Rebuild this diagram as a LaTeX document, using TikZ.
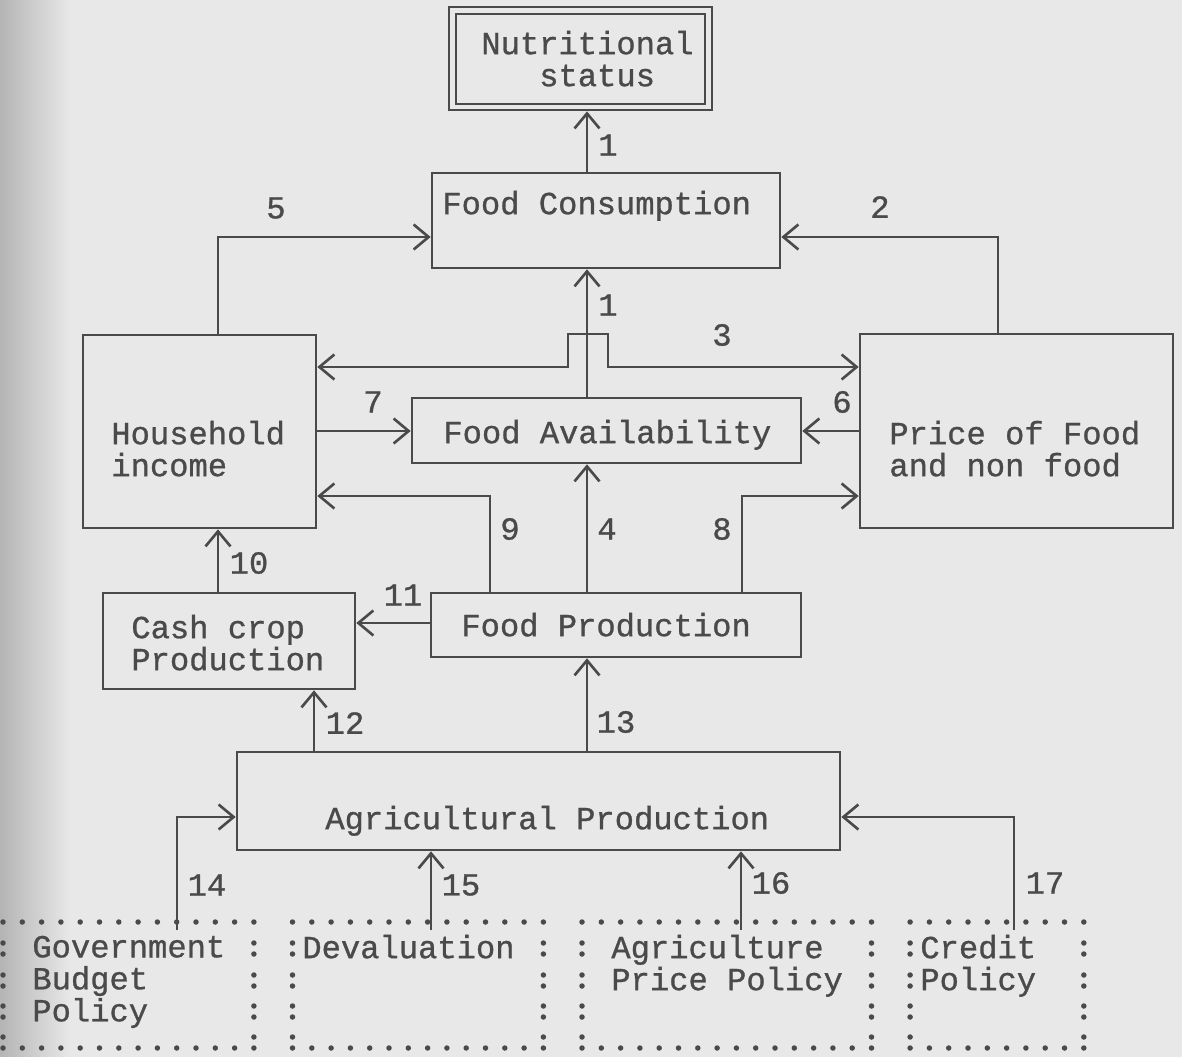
\documentclass[tikz,border=0pt]{standalone}
\usepackage{fontspec}
\newfontfamily\mono[FakeBold=0.9]{Liberation Mono}
\usetikzlibrary{arrows.meta,fit,calc}
\definecolor{ink}{HTML}{4A4A4A}
\definecolor{bg}{HTML}{E8E8E8}
\definecolor{bgdark}{HTML}{B4B4B4}
\newcommand\ts{\rule{0pt}{12.8pt}}
\newcommand\dotbox[2]{%
  \foreach \i in {0,...,#2} {%
    \fill[ink] ({#1+\i*19.3},922) circle[radius=0.055cm];
    \fill[ink] ({#1+\i*19.3},1048) circle[radius=0.055cm];}
  \foreach \yy in {943,954,975,986,1006,1017,1037} {%
    \fill[ink] (#1,\yy) circle[radius=0.055cm];
    \fill[ink] ({#1+#2*19.3},\yy) circle[radius=0.055cm];}
}
\tikzset{
  box/.style={draw=ink, line width=1.5pt, inner sep=0pt},
  dbl/.style={draw=ink, line width=1.2pt, double=bg, double distance=2.6pt, inner sep=0pt, outer sep=2.5pt},
  pbox/.style={draw=none, inner sep=0pt, outer sep=0pt},
  txt/.style={font=\mono\fontsize{18.3pt}{18.2pt}\selectfont, text=ink, align=left, inner sep=0pt, anchor=north west, yshift=12.8pt},
  num/.style={font=\mono\fontsize{18.3pt}{18.2pt}\selectfont, text=ink, inner sep=0pt},
  conn/.style={draw=ink, line width=1.5pt, -{Straight Barb[length=3mm,width=5mm]}},
  conntwo/.style={draw=ink, line width=1.5pt, {Straight Barb[length=3mm,width=5mm]}-{Straight Barb[length=3mm,width=5mm]}},
}
\begin{document}
\begin{tikzpicture}[x=0.02cm,y=-0.02cm]
\useasboundingbox (0,0) rectangle (1182,1057);
\fill[bg] (0,0) rectangle (1182,1057);
\shade[left color=bgdark, right color=bg] (0,0) rectangle (70,1057);

% boxes
\node[dbl, fit={(452.5,10.5) (708.5,107)}] (ns) {};
\node[box, fit={(432,173) (780,268)}] (fc) {};
\node[box, fit={(83,335) (316,528)}] (hh) {};
\node[box, fit={(860,334) (1173,528)}] (pr) {};
\node[box, fit={(412,398) (801,463)}] (fa) {};
\node[box, fit={(431,593) (801,657)}] (fp) {};
\node[box, fit={(103,593) (355,689)}] (cc) {};
\node[box, fit={(237,752) (840,850)}] (ap) {};
\node[pbox, fit={(3,930) (253.9,1048)}] (gov) {};
\node[pbox, fit={(292.5,930) (543.4,1048)}] (dev) {};
\node[pbox, fit={(582,930) (871.5,1048)}] (agp) {};
\node[pbox, fit={(910.1,930) (1083.8,1048)}] (cred) {};

% texts
\node[txt] (nst) at (481,53) {\ts Nutritional\\\hphantom{xxx}status};
\node[txt] (fct) at (442,213) {\ts Food Consumption};
\node[txt] (hht) at (111,443) {\ts Household\\income};
\node[txt] (prt) at (889,443) {\ts Price of Food\\and non food};
\node[txt] (fat) at (443,442) {\ts Food Availability};
\node[txt] (fpt) at (461,635) {\ts Food Production};
\node[txt] (cct) at (131,637) {\ts Cash crop\\Production};
\node[txt] (apt) at (325,828) {\ts Agricultural Production};
\node[txt] (govt) at (32,957) {\ts Government\\Budget\\Policy};
\node[txt] (devt) at (302,957) {\ts Devaluation};
\node[txt] (agpt) at (611,957) {\ts Agriculture\\Price Policy};
\node[txt] (credt) at (920,957) {\ts Credit\\Policy};

% dotted policy boxes
\dotbox{3}{13}
\dotbox{292.5}{13}
\dotbox{582}{15}
\dotbox{910.1}{9}

% guide coordinates
\coordinate (v1) at (587,0);
\coordinate (v5) at (218,0);
\coordinate (v2) at (998,0);
\coordinate (v9) at (490,0);
\coordinate (v8) at (742,0);
\coordinate (v12) at (314,0);
\coordinate (v14) at (177,0);
\coordinate (v15) at (431,0);
\coordinate (v16) at (741,0);
\coordinate (v17) at (1014,0);
\coordinate (h5) at (0,237);
\coordinate (h3) at (0,367);
\coordinate (h7) at (0,431);
\coordinate (h9) at (0,496);
\coordinate (h11) at (0,623);
\coordinate (h14) at (0,817);
\coordinate (b1) at (568,334);
\coordinate (b2) at (608,334);

% connectors
\draw[conn] (v1 |- fc.north) -- (v1 |- ns.south);
\draw[conn] (v5 |- hh.north) -- (v5 |- h5) -- (fc.west |- h5);
\draw[conn] (v2 |- pr.north) -- (v2 |- h5) -- (fc.east |- h5);
\draw[conn] (v1 |- fa.north) -- (v1 |- fc.south);
\draw[conntwo] (hh.east |- h3) -- (b1 |- h3) -- (b1) -- (b2) -- (b2 |- h3) -- (pr.west |- h3);
\draw[conn] (hh.east |- h7) -- (fa.west |- h7);
\draw[conn] (pr.west |- h7) -- (fa.east |- h7);
\draw[conn] (v9 |- fp.north) -- (v9 |- h9) -- (hh.east |- h9);
\draw[conn] (v1 |- fp.north) -- (v1 |- fa.south);
\draw[conn] (v8 |- fp.north) -- (v8 |- h9) -- (pr.west |- h9);
\draw[conn] (fp.west |- h11) -- (cc.east |- h11);
\draw[conn] (v5 |- cc.north) -- (v5 |- hh.south);
\draw[conn] (v12 |- ap.north) -- (v12 |- cc.south);
\draw[conn] (v1 |- ap.north) -- (v1 |- fp.south);
\draw[conn] (v14 |- gov.north) -- (v14 |- h14) -- (ap.west |- h14);
\draw[conn] (v15 |- dev.north) -- (v15 |- ap.south);
\draw[conn] (v16 |- agp.north) -- (v16 |- ap.south);
\draw[conn] (v17 |- cred.north) -- (v17 |- h14) -- (ap.east |- h14);

% connector labels
\node[num] (l1a) at (608,145) {1};
\node[num] (l5) at (276,208) {5};
\node[num] (l2) at (880,207) {2};
\node[num] (l1b) at (608,305) {1};
\node[num] (l3) at (722,335) {3};
\node[num] (l7) at (373,402) {7};
\node[num] (l6) at (842,402) {6};
\node[num] (l9) at (510,529) {9};
\node[num] (l4) at (607,529) {4};
\node[num] (l8) at (722,529) {8};
\node[num] (l10) at (249,563) {10};
\node[num] (l11) at (403,595) {11};
\node[num] (l12) at (345,723) {12};
\node[num] (l13) at (616,722) {13};
\node[num] (l14) at (207,885) {14};
\node[num] (l15) at (461,885) {15};
\node[num] (l16) at (771,883) {16};
\node[num] (l17) at (1045,883) {17};
\end{tikzpicture}
\end{document}
